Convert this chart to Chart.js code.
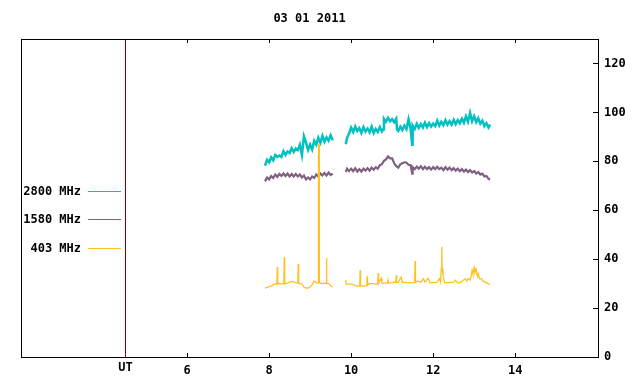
<!DOCTYPE html>
<html><head><meta charset="utf-8">
<script src="https://cdn.jsdelivr.net/npm/chart.js@4"></script>
<style>html,body{margin:0;padding:0;background:#fff}#wrap{width:640px;height:384px}</style>
</head><body><div id="wrap"><canvas id="c" width="640" height="384"></canvas></div>
<script>
const chartTitle = '03 01 2011';
const seriesLabels = ['2800 MHz', '1580 MHz', '403 MHz'];
const xTickValues = [4.5, 6, 8, 10, 12, 14];
const xTickLabels = ['UT', '6', '8', '10', '12', '14'];
const yTickValues = [0, 20, 40, 60, 80, 100, 120];
const utMarker = 4.5;

const cyanTimes = [7.90,7.95,8.00,8.05,8.10,8.15,8.20,8.25,8.30,8.35,8.40,8.45,8.50,8.55,8.60,8.65,8.70,8.75,8.80,8.85,8.90,8.95,9.00,9.05,9.10,9.15,9.20,9.25,9.30,9.35,9.40,9.45,9.50,9.55,
 9.70,
 9.87,9.90,9.95,10.00,10.05,10.10,10.15,10.20,10.25,10.30,10.35,10.40,10.45,10.50,10.55,10.60,10.65,10.70,10.75,10.78,10.80,10.85,10.90,10.95,11.00,11.05,11.10,11.12,11.15,11.20,11.25,11.30,11.35,11.40,11.45,11.49,11.50,11.55,11.60,11.65,11.70,11.75,11.80,11.85,11.90,11.95,12.00,12.05,12.10,12.15,12.20,12.25,12.30,12.35,12.40,12.45,12.50,12.55,12.60,12.65,12.70,12.75,12.80,12.85,12.90,12.95,13.00,13.05,13.10,13.15,13.20,13.25,13.30,13.35,13.39];
const cyanValues = [78.2,80.6,79.6,81.6,80.4,82.6,81.8,82.4,81.8,84.2,82.6,84.0,83.4,85.4,83.8,85.2,84.6,86.8,82.6,90.2,87.6,84.6,86.8,84.8,88.4,86.8,89.6,87.6,90.4,88.0,89.8,88.4,90.6,88.6,
 null,
 87.0,89.6,91.4,93.8,92.0,94.2,92.4,93.6,91.6,94.0,92.2,93.4,91.8,94.2,91.6,93.2,92.0,94.0,92.2,93.0,97.4,96.2,97.8,96.4,97.2,96.0,97.4,93.0,92.4,94.2,92.8,94.6,93.2,97.2,93.4,86.8,94.6,93.2,95.4,93.6,95.2,93.8,95.8,94.0,95.6,94.2,95.4,94.4,96.6,94.6,96.2,94.8,96.8,95.0,96.4,95.0,97.0,95.2,96.8,95.6,97.4,95.8,98.4,96.2,99.8,96.4,98.4,96.0,97.6,95.4,96.6,94.4,95.6,93.8,95.0];

const purpleTimes = [7.90,7.95,8.00,8.05,8.10,8.15,8.20,8.25,8.30,8.35,8.40,8.45,8.50,8.55,8.60,8.65,8.70,8.75,8.80,8.85,8.90,8.95,9.00,9.05,9.10,9.15,9.20,9.25,9.30,9.35,9.40,9.45,9.50,9.55,
 9.70,
 9.87,9.90,9.95,10.00,10.05,10.10,10.15,10.20,10.25,10.30,10.35,10.40,10.45,10.50,10.55,10.60,10.65,10.70,10.75,10.80,10.85,10.90,10.95,11.00,11.05,11.10,11.15,11.20,11.25,11.30,11.35,11.40,11.45,11.49,11.50,11.55,11.60,11.65,11.70,11.75,11.80,11.85,11.90,11.95,12.00,12.05,12.10,12.15,12.20,12.25,12.30,12.35,12.40,12.45,12.50,12.55,12.60,12.65,12.70,12.75,12.80,12.85,12.90,12.95,13.00,13.05,13.10,13.15,13.20,13.25,13.30,13.35,13.39];
const purpleValues = [71.8,73.4,72.6,74.0,73.2,74.6,73.6,74.8,74.0,75.0,74.0,75.0,73.8,74.8,73.8,74.8,73.8,74.6,73.4,74.2,72.6,73.4,72.6,73.8,73.2,74.6,73.8,75.0,74.2,75.2,74.2,75.4,74.4,75.0,
 null,
 75.6,77.0,76.0,77.0,76.0,77.2,75.8,76.8,75.8,77.0,76.2,77.2,76.2,77.4,76.6,77.6,77.0,78.4,78.8,80.2,80.8,82.0,81.2,81.2,79.2,78.0,77.4,78.8,79.2,79.6,79.4,78.6,78.4,75.0,77.6,76.8,77.8,77.0,78.0,76.8,77.8,76.8,77.6,76.6,77.6,76.8,77.8,76.8,77.4,76.4,77.6,76.6,77.4,76.4,77.2,76.2,77.0,76.0,76.8,75.8,76.6,75.6,76.4,75.4,76.0,75.0,75.6,74.6,75.0,73.8,74.0,72.8,72.6];

const orangeTimes = [7.90,7.95,8.00,8.05,8.10,8.15,8.19,8.20,8.21,8.25,8.30,8.36,8.37,8.38,8.45,8.50,8.55,8.60,8.65,8.70,8.71,8.72,8.75,8.80,8.85,8.90,8.95,9.00,9.05,9.10,9.15,9.20,9.205,9.22,9.225,9.25,9.30,9.35,9.39,9.40,9.41,9.45,9.50,9.55,
 9.70,
 9.87,9.88,9.95,10.00,10.05,10.10,10.15,10.21,10.22,10.23,10.30,10.38,10.39,10.40,10.45,10.55,10.60,10.65,10.66,10.67,10.73,10.75,10.80,10.89,10.90,10.91,11.00,11.05,11.09,11.10,11.11,11.15,11.22,11.25,11.30,11.40,11.45,11.55,11.56,11.57,11.62,11.70,11.76,11.80,11.88,11.92,12.00,12.08,12.15,12.18,12.20,12.21,12.22,12.24,12.28,12.40,12.49,12.54,12.61,12.68,12.78,12.82,12.85,12.90,12.93,12.95,12.97,13.00,13.02,13.05,13.08,13.10,13.13,13.17,13.22,13.30,13.34,13.39];
const orangeValues = [28.2,28.5,28.8,29.0,29.5,30.0,29.8,36.8,29.8,30.2,29.8,30.0,40.8,30.0,30.2,30.5,31.0,30.6,30.4,30.2,38.0,30.2,30.0,29.8,28.5,28.2,28.2,28.6,29.6,31.0,30.4,30.2,87.0,87.0,30.5,30.2,30.0,30.2,30.0,40.4,30.0,30.0,29.2,28.6,
 null,
 31.4,29.8,29.8,29.8,29.6,29.2,29.0,29.0,35.5,29.0,29.0,29.2,33.0,29.4,30.0,30.0,29.8,30.0,34.3,30.0,32.2,30.2,30.2,30.2,31.4,30.2,30.4,30.6,30.4,33.5,30.6,30.5,32.7,30.4,30.6,30.2,30.4,30.4,39.2,30.6,31.0,30.6,32.0,30.6,32.2,30.4,30.5,30.4,32.0,30.6,36.3,45.0,36.0,33.5,30.4,30.4,30.6,31.4,30.2,30.6,32.0,31.0,32.0,31.5,33.5,35.5,34.0,36.5,34.5,35.8,33.0,34.0,32.0,32.0,31.0,30.4,30.0,29.8];

const colors = ['#00c0c0', '#806080', '#ffc020'];

function pts(t, v) { return t.map((x, i) => ({x: x, y: v[i]})); }

const FONT_FAMILY = "'DejaVu Sans Mono', 'Liberation Mono', monospace";

const overlay = {
  id: 'overlay',
  beforeDatasetsDraw(chart) {
    const {ctx, chartArea: a, scales: {x}} = chart;
    const px = Math.floor(x.getPixelForValue(utMarker)) + 0.5;
    ctx.save();
    ctx.strokeStyle = '#800000';
    ctx.lineWidth = 1;
    ctx.beginPath(); ctx.moveTo(px, a.top); ctx.lineTo(px, a.bottom); ctx.stroke();
    ctx.restore();
  },
  afterDatasetsDraw(chart) {
    const {ctx, chartArea: a, scales: {x, y}} = chart;
    ctx.save();
    ctx.strokeStyle = '#000';
    ctx.lineWidth = 1;
    ctx.strokeRect(a.left + 0.5, a.top + 0.5, a.right - a.left, a.bottom - a.top);
    ctx.beginPath();
    xTickValues.forEach(v => {
      if (v === utMarker) return;
      const px = Math.round(x.getPixelForValue(v)) + 0.5;
      ctx.moveTo(px, a.bottom); ctx.lineTo(px, a.bottom - 4);
      ctx.moveTo(px, a.top); ctx.lineTo(px, a.top + 4);
    });
    yTickValues.forEach(v => {
      const py = Math.round(y.getPixelForValue(v)) + 0.5;
      ctx.moveTo(a.right, py); ctx.lineTo(a.right - 5, py);
    });
    ctx.stroke();
    // legend
    const rows = [191, 219, 248];
    ctx.font = 'bold 12px ' + FONT_FAMILY;
    ctx.textAlign = 'right';
    ctx.textBaseline = 'middle';
    chart.data.datasets.forEach((ds, i) => {
      const ry = rows[i];
      ctx.fillStyle = '#000';
      ctx.fillText(ds.label, 81, ry + 1);
      ctx.strokeStyle = ds.borderColor;
      ctx.lineWidth = 1;
      ctx.beginPath(); ctx.moveTo(88, ry + 0.5); ctx.lineTo(121, ry + 0.5); ctx.stroke();
    });
    ctx.restore();
  }
};

new Chart(document.getElementById('c'), {
  type: 'line',
  data: {
    datasets: [
      {label: seriesLabels[0], data: pts(cyanTimes, cyanValues), borderColor: colors[0], borderWidth: 2.5, order: 2},
      {label: seriesLabels[1], data: pts(purpleTimes, purpleValues), borderColor: colors[1], borderWidth: 2.2, order: 1},
      {label: seriesLabels[2], data: pts(orangeTimes, orangeValues), borderColor: colors[2], borderWidth: 1.3, order: 0}
    ]
  },
  options: {
    responsive: false,
    animation: false,
    devicePixelRatio: 1,
    spanGaps: false,
    elements: {
      point: {radius: 0},
      line: {borderWidth: 1, tension: 0, fill: false}
    },
    layout: {padding: {left: 21, right: 0, top: 0, bottom: 0}},
    plugins: {
      legend: {display: false},
      tooltip: {enabled: false},
      title: {
        display: true,
        fullSize: false,
        text: chartTitle,
        color: '#000',
        font: {family: FONT_FAMILY, size: 12, weight: 'bold', lineHeight: 1.2},
        padding: {top: 12, bottom: 12.6}
      }
    },
    scales: {
      x: {
        type: 'linear',
        min: 1.95, max: 16.02,
        grid: {display: false, drawTicks: false},
        border: {display: false},
        afterBuildTicks: (axis) => { axis.ticks = xTickValues.map(v => ({value: v})); },
        afterFit: (axis) => { axis.height = 27; },
        ticks: {
          color: '#000',
          padding: 7,
          maxRotation: 0,
          autoSkip: false,
          font: (ctx) => ({family: FONT_FAMILY, size: 12, weight: 'bold', lineHeight: (ctx.tick && ctx.tick.value === utMarker) ? 0.6 : 1.2}),
          callback: (v) => xTickLabels[xTickValues.indexOf(v)]
        }
      },
      y: {
        type: 'linear',
        position: 'right',
        min: 0, max: 130,
        grid: {display: false, drawTicks: false},
        border: {display: false},
        afterBuildTicks: (axis) => { axis.ticks = yTickValues.map(v => ({value: v})); },
        afterFit: (axis) => { axis.width = 42; },
        ticks: {
          color: '#000',
          padding: 6,
          font: {family: FONT_FAMILY, size: 12, weight: 'bold'}
        }
      }
    }
  },
  plugins: [overlay]
});
</script></body></html>
